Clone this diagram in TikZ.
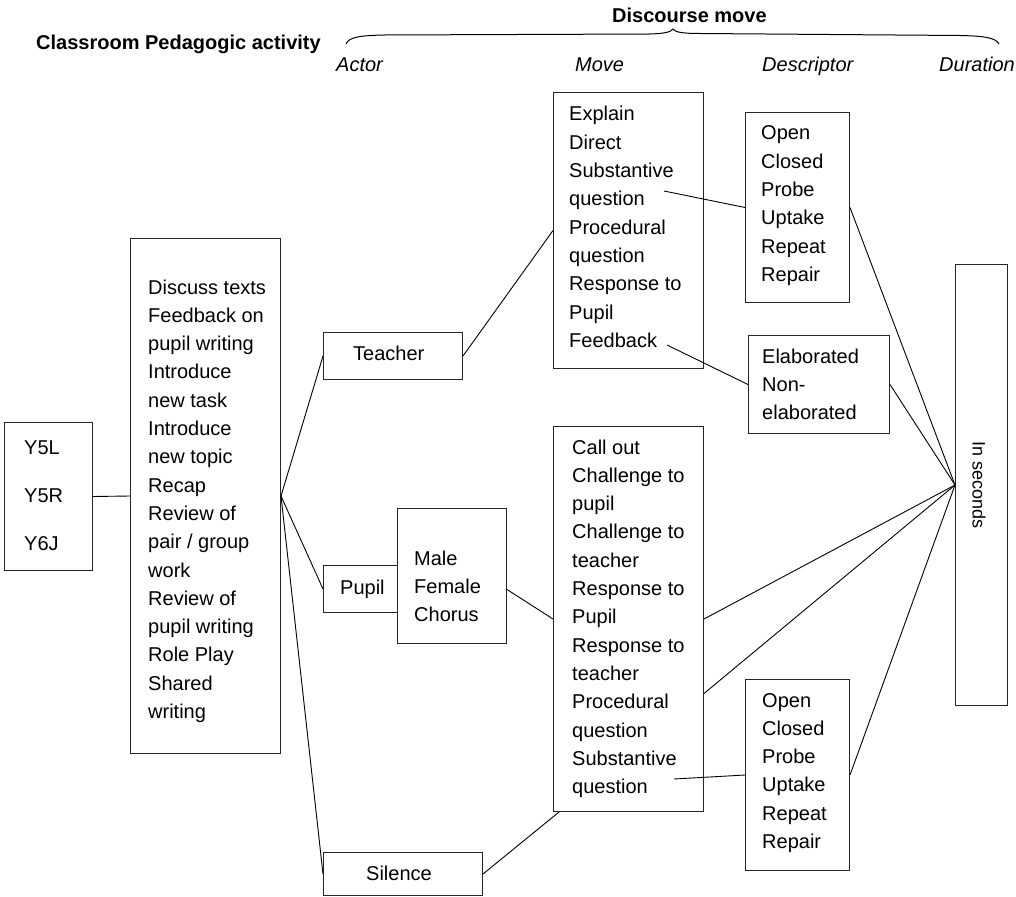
\documentclass[tikz,border=0pt]{standalone}
\usepackage{fontspec}
\setmainfont{Liberation Sans}
\newcommand{\mylines}[1]{\begin{tabular}[t]{@{}l@{}}#1\end{tabular}}
\tikzset{
  box/.style={draw=black!85, line width=1pt, inner sep=0pt, anchor=north west},
  txt/.style={inner sep=0pt, anchor=base west, font=\fontsize{20pt}{28.3pt}\selectfont},
  ytxt/.style={inner sep=0pt, anchor=base west, font=\fontsize{20pt}{48pt}\selectfont},
  head/.style={inner sep=0pt, anchor=base west, font=\fontsize{20pt}{24pt}\selectfont\bfseries},
  col/.style={inner sep=0pt, anchor=base west, font=\fontsize{20pt}{24pt}\selectfont\itshape},
  conn/.style={draw=black, line width=0.9pt},
}
\begin{document}
\begin{tikzpicture}[x=1pt,y=-1pt]
\useasboundingbox (0,0) rectangle (1016,896);
% headers
\node[head] (hcpa) at (36,50) {Classroom Pedagogic activity};
\node[head] (hdm) at (612,23) {Discourse move};
\node[col] (hactor) at (336,72) {Actor};
\node[col] (hmove) at (575,72) {Move};
\node[col] (hdesc) at (762,72) {Descriptor};
\node[col] (hdur) at (939,72) {Duration};
\draw[line width=1pt] (346,44) .. controls (349,37) and (360,35.5) .. (385,35) -- (650,34)
  .. controls (665,33.5) and (671,32) .. (673,29)
  .. controls (675,32) and (681,33.5) .. (700,33.5) -- (960,35.5)
  .. controls (985,36) and (996,38) .. (999,44);
% boxes
\node[box, minimum width=88pt, minimum height=148pt] (ybox) at (4,422) {};
\node[box, minimum width=150pt, minimum height=515pt] (act) at (130,238) {};
\node[box, minimum width=139pt, minimum height=47pt] (teacher) at (323,332) {};
\node[box, minimum width=74pt, minimum height=47pt] (pupil) at (323,565) {};
\node[box, minimum width=109pt, minimum height=135pt] (gender) at (397,508) {};
\node[box, minimum width=159pt, minimum height=43pt] (silence) at (323,852) {};
\node[box, minimum width=150pt, minimum height=276pt] (movet) at (553,92) {};
\node[box, minimum width=150pt, minimum height=385pt] (moveb) at (553,426) {};
\node[box, minimum width=104pt, minimum height=190pt] (desct) at (745,112) {};
\node[box, minimum width=141pt, minimum height=98pt] (elab) at (748,335) {};
\node[box, minimum width=104pt, minimum height=191pt] (descb) at (745,679) {};
\node[box, minimum width=52pt, minimum height=441pt] (sec) at (955,264) {};
% texts
\node[ytxt] (tybox) at (24,454) {\mylines{Y5L\\Y5R\\Y6J}};
\node[txt] (tact) at (148,294) {\mylines{Discuss texts\\Feedback on\\pupil writing\\Introduce\\new task\\Introduce\\new topic\\Recap\\Review of\\pair / group\\work\\Review of\\pupil writing\\Role Play\\Shared\\writing}};
\node[txt] (tteacher) at (353,360) {Teacher};
\node[txt] (tpupil) at (340,594) {Pupil};
\node[txt] (tgender) at (414,565) {\mylines{Male\\Female\\Chorus}};
\node[txt] (tsilence) at (366,880) {Silence};
\node[txt] (tmovet) at (569,121) {\mylines{Explain\\Direct\\Substantive\\question\\Procedural\\question\\Response to\\Pupil\\Feedback}};
\node[txt] (tmoveb) at (572,454) {\mylines{Call out\\Challenge to\\pupil\\Challenge to\\teacher\\Response to\\Pupil\\Response to\\teacher\\Procedural\\question\\Substantive\\question}};
\node[txt] (tdesct) at (761,140) {\mylines{Open\\Closed\\Probe\\Uptake\\Repeat\\Repair}};
\node[txt] (telab) at (762,363) {\mylines{Elaborated\\Non-\\elaborated}};
\node[txt] (tdescb) at (762,707) {\mylines{Open\\Closed\\Probe\\Uptake\\Repeat\\Repair}};
\node[inner sep=0pt, rotate=-90, font=\fontsize{18pt}{22pt}\selectfont] (tsec) at (979,485) {In seconds};
% free ends inside the move boxes
\coordinate (q1) at (664,191);
\coordinate (fb) at (667,345);
\coordinate (q2) at (674,779);
% connectors
\draw[conn] (ybox.east) -- (act.west);
\draw[conn] (act.east) -- (teacher.west);
\draw[conn] (act.east) -- (pupil.west);
\draw[conn] (act.east) -- (silence.west);
\draw[conn] (teacher.east) -- (movet.west);
\draw[conn] ([yshift=-13.5pt]gender.east) -- (moveb.west);
\draw[conn] (silence.east) -- ([xshift=6pt]moveb.south west);
\draw[conn] (q1) -- (desct.west);
\draw[conn] (fb) -- (elab.west);
\draw[conn] (q2) -- (descb.west);
\draw[conn] (desct.east) -- (sec.west);
\draw[conn] (elab.east) -- (sec.west);
\draw[conn] (moveb.east) -- (sec.west);
\draw[conn] ([yshift=-74.5pt]moveb.east) -- (sec.west);
\draw[conn] (descb.east) -- (sec.west);
\end{tikzpicture}
\end{document}
